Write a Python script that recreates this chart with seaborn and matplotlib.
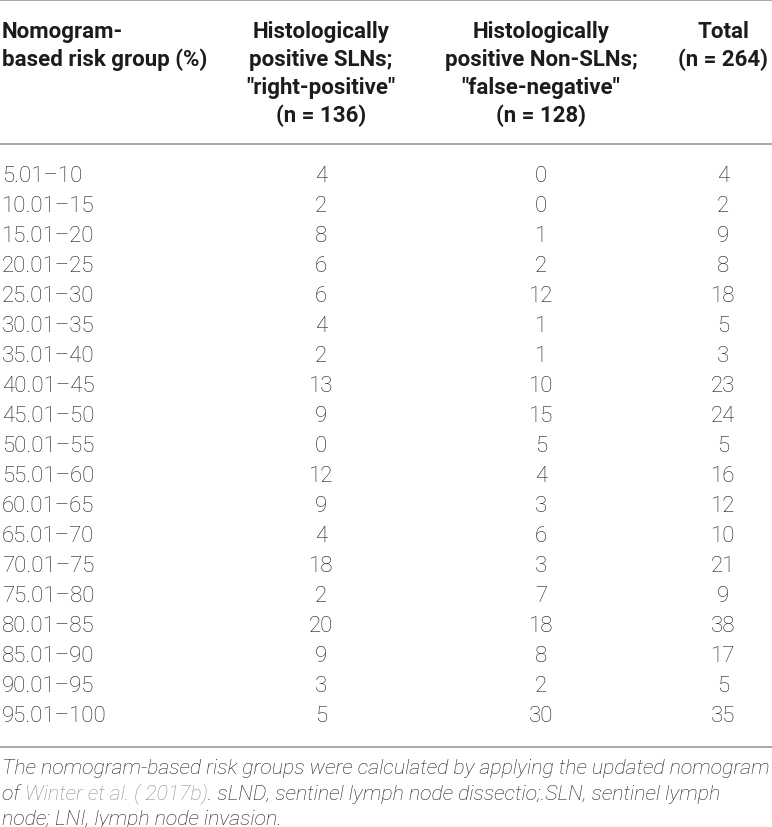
import matplotlib
matplotlib.use("Agg")
import matplotlib.pyplot as plt
import seaborn as sns

# Данные таблицы
groups = ["5.01–10", "10.01–15", "15.01–20", "20.01–25", "25.01–30", "30.01–35",
          "35.01–40", "40.01–45", "45.01–50", "50.01–55", "55.01–60", "60.01–65",
          "65.01–70", "70.01–75", "75.01–80", "80.01–85", "85.01–90", "90.01–95",
          "95.01–100"]
sln_pos = [4, 2, 8, 6, 6, 4, 2, 13, 9, 0, 12, 9, 4, 18, 2, 20, 9, 3, 5]
non_sln_pos = [0, 0, 1, 2, 12, 1, 1, 10, 15, 5, 4, 3, 6, 3, 7, 18, 8, 2, 30]
totals = [4, 2, 9, 8, 18, 5, 3, 23, 24, 5, 16, 12, 10, 21, 9, 38, 17, 5, 35]

headers = [["Nomogram-", "based risk group (%)"],
           ["Histologically", "positive SLNs;", "\"right-positive\"", "(n = 136)"],
           ["Histologically", "positive Non-SLNs;", "\"false-negative\"", "(n = 128)"],
           ["Total", "(n = 264)"]]

sns.set_style("white")
plt.rcParams['font.family'] = ['Roboto', 'DejaVu Sans']

TEXT = "#1e1b1c"
RULE = "#9a9a9a"
LINK = "#8c8c8c"

fig = plt.figure(figsize=(7.72, 8.28), dpi=100)
ax = fig.add_axes([0, 0, 1, 1])
ax.set_xlim(0, 772)
ax.set_ylim(828, 0)
ax.axis("off")

col_x = [2, 321, 541, 723]
fs_head = 16
fs = 16

# Линии
for y in [1, 145, 748]:
    ax.plot([0, 772], [y, y], color=RULE, lw=1.2, solid_capstyle="butt")

# Заголовок
head_y = [32, 60, 88, 116]
for i, lines in enumerate(headers):
    for j, line in enumerate(lines):
        ax.text(col_x[i], head_y[j], line, ha="left" if i == 0 else "center",
                va="center", fontsize=fs_head, fontweight="bold", color=TEXT)

# Строки
row_h = (717 - 176) / 18
for r, g in enumerate(groups):
    y = 176 + r * row_h
    ax.text(col_x[0], y, g, ha="left", va="center", fontsize=fs, color=TEXT, fontweight="light")
    ax.text(col_x[1], y, str(sln_pos[r]), ha="center", va="center", fontsize=fs, color=TEXT, fontweight="light")
    ax.text(col_x[2], y, str(non_sln_pos[r]), ha="center", va="center", fontsize=fs, color=TEXT, fontweight="light")
    ax.text(col_x[3], y, str(totals[r]), ha="center", va="center", fontsize=fs, color=TEXT, fontweight="light")

# Примечание
fn = 15.3
kw = dict(fontsize=fn, style="italic", fontweight="light")
ax.text(2, 769, "The nomogram-based risk groups were calculated by applying the updated nomogram",
        ha="left", va="center", color=TEXT, **kw)
t1 = ax.text(2, 795, "of ", ha="left", va="center", color=TEXT, **kw)
t2 = ax.annotate("Winter et al. ( 2017b)", xy=(1, 0), xycoords=t1, va="bottom",
                 color=LINK, **kw)
ax.annotate(". sLND, sentinel lymph node dissectio;.SLN, sentinel lymph", xy=(1, 0),
            xycoords=t2, va="bottom", color=TEXT, **kw)
ax.text(2, 820, "node; LNI, lymph node invasion.", ha="left", va="center",
        color=TEXT, **kw)

fig.savefig("out.png", dpi=100)
